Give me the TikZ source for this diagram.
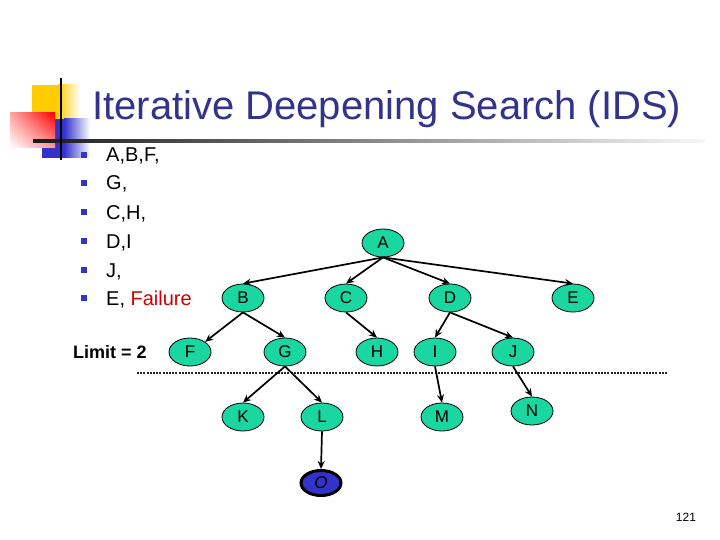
\documentclass[tikz,border=0pt]{standalone}
\usepackage{fontspec}
\setmainfont{Liberation Sans}
\usetikzlibrary{shapes.geometric,arrows.meta,shadings}
\definecolor{nodegreen}{RGB}{26,214,160}
\definecolor{titleblue}{RGB}{51,51,140}
\definecolor{bulblue}{RGB}{51,51,204}
\definecolor{failred}{RGB}{204,0,0}
\definecolor{decoyellow}{RGB}{255,204,0}
\tikzset{
  tnode/.style={ellipse, draw=black, line width=0.8pt, fill=nodegreen, minimum width=42pt, minimum height=28pt, inner sep=0pt, font=\fontsize{17}{17}\selectfont},
  goal/.style={ellipse, draw=black, line width=3pt, fill=bulblue, minimum width=40pt, minimum height=25pt, inner sep=0pt, font=\fontsize{17}{17}\selectfont\itshape},
  edge/.style={line width=1.7pt, -{Stealth[length=8pt,width=7pt]}},
  bul/.style={fill=bulblue, minimum size=6pt, inner sep=0pt},
  btext/.style={anchor=base west, inner sep=0pt, font=\fontsize{20}{20}\selectfont}
}
\begin{document}
\begin{tikzpicture}[x=1pt,y=-1pt]
\useasboundingbox[fill=white] (0,0) rectangle (720,540);
% decoration
\fill[decoyellow] (32,85) rectangle (58,119);
\shade[left color=decoyellow, right color=white] (58,85) rectangle (80,119);
\fill[bulblue] (42,119) rectangle (64,158);
\shade[left color=bulblue, right color=white] (64,119) rectangle (90,158);
\shade[upper right=red, upper left=red!35, lower right=red!40, lower left=white] (10,113) rectangle (55,148);
\shade[left color=black!90, right color=black!3] (33,140) rectangle (705,142.5);
\fill[black] (60,78) rectangle (62.2,160);
% title
\node[anchor=base west, inner sep=0pt, text=titleblue, font=\fontsize{40}{40}\selectfont] (title) at (92,120) {Iterative Deepening Search (IDS)};
% bullets
\foreach \yy/\tx/\nm in {155/{A,B,F,}/b1, 183/{G,}/b2, 212/{C,H,}/b3, 241/{D,I}/b4, 270/{J,}/b5}{
  \node[bul] (s\nm) at (83.5,\yy) {};
  \node[btext] (\nm) at (106,\yy+7) {\tx};
}
\node[bul] (sb6) at (83.5,298) {};
\node[btext] (b6) at (106,305) {E, \textcolor{failred}{Failure}};
\node[anchor=west, inner sep=0pt, font=\fontsize{18}{18}\selectfont\bfseries] (limit) at (73,352) {Limit = 2};
% tree
\node[tnode] (A) at (383,243) {A};
\node[tnode] (B) at (243,298) {B};
\node[tnode] (C) at (346,298) {C};
\node[tnode] (D) at (450,298) {D};
\node[tnode] (E) at (573,298) {E};
\node[tnode] (F) at (190,352) {F};
\node[tnode] (G) at (285,352) {G};
\node[tnode] (H) at (377,352) {H};
\node[tnode] (I) at (435,352) {I};
\node[tnode] (J) at (513,352) {J};
\node[tnode] (K) at (243,417) {K};
\node[tnode] (L) at (322,417) {L};
\node[tnode] (M) at (442,417) {M};
\node[tnode] (N) at (532,411) {N};
\node[goal] (O) at (321,483) {O};
% dotted limit line
\coordinate (d1) at (137,373);
\coordinate (d2) at (667,373);
\draw[line width=2.5pt, dash pattern=on 2pt off 1.2pt, black!85] (d1) -- (d2);
% edges
\draw[edge] (A.south) -- (B.north);
\draw[edge] (A.south) -- (C.north);
\draw[edge] (A.south) -- (D.north);
\draw[edge] (A.south) -- (E.north);
\draw[edge] (B.south) -- (F.north east);
\draw[edge] (B.south) -- (G.north);
\draw[edge] (C.south) -- (H.north);
\draw[edge] (D.south) -- (I.north);
\draw[edge] (D.south) -- (J.north);
\draw[edge] (G.south) -- (K.north);
\draw[edge] (G.south) -- (L.north);
\draw[edge] (I.south) -- (M.north);
\draw[edge] (J.south) -- (N.north);
\draw[edge] (L.south) -- (O.north);
% page number
\node[font=\fontsize{12}{12}\selectfont] (pg) at (686,517) {121};
\end{tikzpicture}
\end{document}
